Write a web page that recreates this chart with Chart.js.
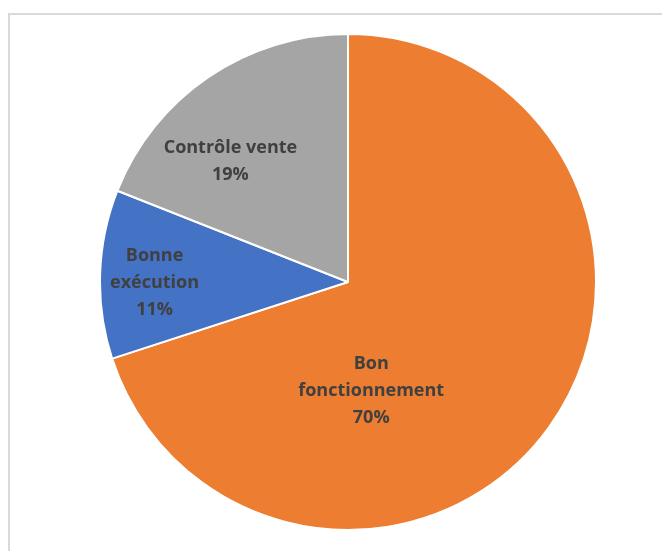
<!DOCTYPE html>
<html>
<head>
<meta charset="utf-8">
<script src="https://cdn.jsdelivr.net/npm/chart.js@4.4.1/dist/chart.umd.min.js"></script>
<style>
  html, body { margin: 0; padding: 0; background: #fff; }
  body { width: 662px; height: 551px; position: relative; overflow: hidden; }
  .frame {
    position: absolute; left: 8px; top: 13px; width: 700px; height: 600px;
    border-top: 2px solid #d9d9d9; border-left: 2px solid #d9d9d9;
  }
  .wrap { position: absolute; left: 99px; top: 33px; width: 498px; height: 498px; }
</style>
</head>
<body>
<div class="frame"></div>
<div class="wrap"><canvas id="pie" width="498" height="498"></canvas></div>
<script>
// chart data
const categories = [["Bon", "fonctionnement"], ["Bonne", "exécution"], ["Contrôle vente"]];
const shares = [70, 11, 19];
const colors = ["#ED7D31", "#4472C4", "#A5A5A5"];

// where each label sits: angle shift from slice middle (deg), distance as part of radius
const labelPlace = [
  { shift: 42, dist: 0.45 },
  { shift: -2, dist: 0.78 },
  { shift: -10, dist: 0.68 },
];

const sliceLabels = {
  id: "sliceLabels",
  afterDatasetsDraw(chart) {
    const ctx = chart.ctx;
    const meta = chart.getDatasetMeta(0);
    ctx.save();
    ctx.fillStyle = "#404040";
    ctx.font = "bold 18px 'Open Sans'";
    ctx.textAlign = "center";
    ctx.textBaseline = "middle";
    meta.data.forEach((arc, i) => {
      const p = arc.getProps(["x", "y", "startAngle", "endAngle", "outerRadius"], true);
      const mid = (p.startAngle + p.endAngle) / 2 + labelPlace[i].shift * Math.PI / 180;
      const r = p.outerRadius * labelPlace[i].dist;
      const cx = p.x + Math.cos(mid) * r;
      const cy = p.y + Math.sin(mid) * r;
      const lines = categories[i].concat([shares[i] + "%"]);
      const lh = 27;
      const top = cy - (lines.length - 1) * lh / 2;
      lines.forEach((t, k) => ctx.fillText(t, cx, top + k * lh));
    });
    ctx.restore();
  }
};

new Chart(document.getElementById("pie"), {
  type: "pie",
  data: {
    labels: categories.map(c => c.join(" ")),
    datasets: [{
      data: shares,
      backgroundColor: colors,
      borderColor: "#ffffff",
      borderWidth: 2,
    }]
  },
  options: {
    responsive: false,
    animation: false,
    layout: { padding: 0 },
    plugins: {
      legend: { display: false },
      tooltip: { enabled: false },
    },
  },
  plugins: [sliceLabels],
});
</script>
</body>
</html>
